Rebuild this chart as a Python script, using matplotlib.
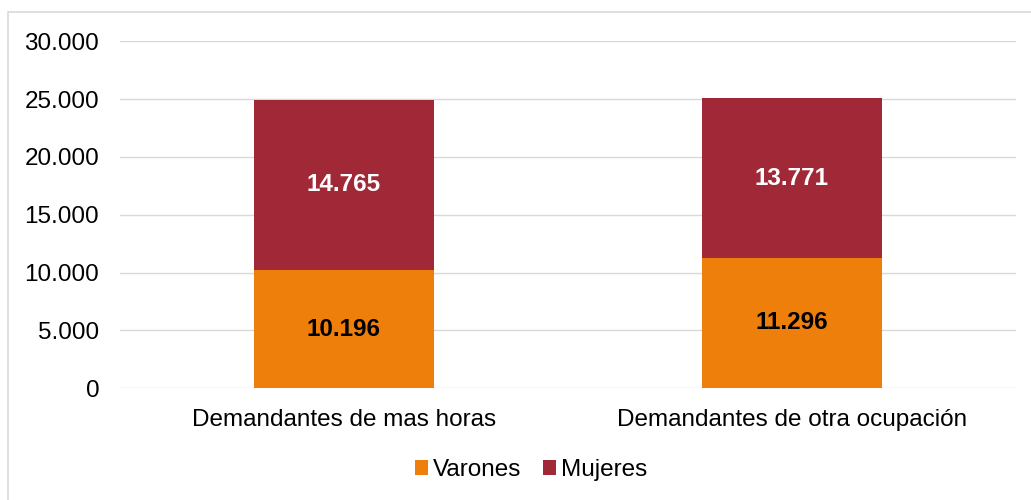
import matplotlib
matplotlib.use("Agg")
import matplotlib.pyplot as plt
from matplotlib.ticker import FuncFormatter
from matplotlib.patches import Rectangle

categories = ["Demandantes de mas horas", "Demandantes de otra ocupación"]
varones = [10196, 11296]
mujeres = [14765, 13771]
series_names = ["Varones", "Mujeres"]
yticks = [0, 5000, 10000, 15000, 20000, 25000, 30000]

c_var = "#EF7F0B"
c_muj = "#A12836"
grid_c = "#D9D9D9"
FS = 17.5

plt.rcParams['font.family'] = ['Liberation Sans', 'DejaVu Sans']

fig = plt.figure(figsize=(10.31, 5.0), dpi=100)
W, H = 1031, 500
ax = fig.add_axes([120 / W, 1 - 388.3 / H, 896 / W, 347 / H])

x = list(range(len(categories)))
b1 = ax.bar(x, varones, width=0.4, color=c_var, label=series_names[0], zorder=3)
b2 = ax.bar(x, mujeres, width=0.4, bottom=varones, color=c_muj, label=series_names[1], zorder=3)

def fmt(v):
    return f"{int(round(v)):,}".replace(",", ".")

for xi, v in zip(x, varones):
    ax.text(xi, v / 2, fmt(v), ha="center", va="center", fontsize=FS,
            fontweight="bold", color="black", zorder=4)
for xi, v, b in zip(x, mujeres, varones):
    ax.text(xi, b + v / 2, fmt(v), ha="center", va="center", fontsize=FS,
            fontweight="bold", color="white", zorder=4)

ax.set_xlim(-0.5, 1.5)
ax.set_ylim(0, 30000)
ax.set_yticks(yticks)
ax.yaxis.set_major_formatter(FuncFormatter(lambda v, p: fmt(v)))
ax.set_xticks(x)
ax.set_xticklabels(categories)
ax.tick_params(axis="both", length=0, labelsize=FS, colors="black")
ax.tick_params(axis="y", pad=15)
ax.tick_params(axis="x", pad=15)
ax.grid(axis="y", color=grid_c, linewidth=1.0, zorder=0)
ax.grid(axis="x", visible=False)
for s in ax.spines.values():
    s.set_visible(False)

leg = fig.legend(handles=[b1, b2], labels=series_names, loc="center",
                 bbox_to_anchor=(531 / W, 1 - 470 / H), ncol=2, frameon=False,
                 fontsize=FS, handlelength=0.55, handleheight=0.55,
                 handletextpad=0.2, columnspacing=0.9, borderpad=0)

fig.add_artist(Rectangle((8 / W, -0.2), 1.2, 0.2 + (1 - 12 / H), transform=fig.transFigure,
                         fill=False, edgecolor=grid_c, linewidth=1.2))

fig.savefig("out.png", dpi=100)
